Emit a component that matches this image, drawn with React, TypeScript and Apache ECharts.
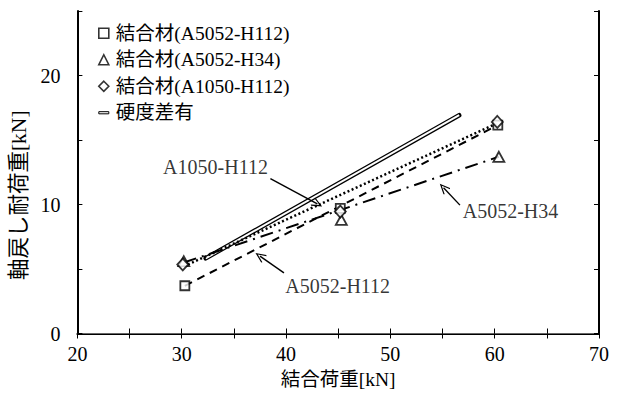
import React, { useEffect, useRef } from "react";
import * as echarts from "echarts";

// ---- data ----
const seriesNames = ["結合材(A5052-H112)", "結合材(A5052-H34)", "結合材(A1050-H112)", "硬度差有"];
const h112Points = [[30.3, 3.7], [45.2, 9.7], [60.3, 16.15]];
const h34Points = [[30.2, 5.6], [45.3, 8.8], [60.4, 13.7]];
const a1050Points = [[30.1, 5.35], [45.2, 9.45], [60.25, 16.4]];
const h112Fit = [[30.3, 3.7], [60.3, 16.15]];
const h34Fit = [[30.2, 5.5], [60.4, 13.7]];
const a1050Fit = [[30.2, 5.2], [60.25, 16.3]];
const hardnessLine = [[32.3, 5.83], [56.6, 16.92]];
const annotationLabels = ["A1050-H112", "A5052-H112", "A5052-H34"];
const annotationTextPos = [[33.24, 12.92], [44.95, 3.72], [61.52, 9.5]];
const arrowFrom = [[38.5, 12.0], [39.8, 4.7], [56.67, 9.95]];
const arrowTo = [[43.0, 10.05], [37.5, 6.0], [55.1, 11.3]];
const xAxisRange = [20, 70];
const yAxisRange = [0, 25];
const tickStep = 5;
const labelStep = 10;

const SERIF = "'Liberation Serif', 'Noto Sans CJK JP'";
const ARROW = "path://M5,0 L10,9.2 L9,10 L5,2.6 L1,10 L0,9.2 Z";

export default function App() {
  const ref = useRef<HTMLDivElement>(null);
  useEffect(() => {
    if (!ref.current) return;
    const chart = echarts.init(ref.current, null, { renderer: "svg" });
    const markerStyle = { color: "#fff", borderColor: "#000", borderWidth: 1.8 };
    const axisLabelFmt = (v: number) => (Math.round(v) % labelStep === 0 ? String(v) : "");
    const baseAxis = {
      type: "value" as const,
      interval: tickStep,
      splitLine: { show: false },
      axisTick: { inside: true, length: 5, lineStyle: { color: "#000", width: 1 } },
    };
    chart.setOption({
      animation: false,
      backgroundColor: "#fff",
      grid: { left: 74, right: 22, top: 11, bottom: 54 },
      legend: {
        orient: "vertical",
        left: 98,
        top: 23.5,
        padding: 0,
        itemWidth: 10,
        itemHeight: 10,
        itemGap: 7,
        itemStyle: { borderColor: "#000", borderWidth: 1.6 },
        textStyle: { fontSize: 19.5, fontFamily: SERIF, color: "#000", padding: [0, 0, 0, 2] },
        data: [
          { name: seriesNames[0], icon: "rect" },
          { name: seriesNames[1], icon: "triangle" },
          { name: seriesNames[2], icon: "diamond" },
          {
            name: seriesNames[3],
            icon: "path://M0,0 L14,0 L14,3 L0,3 Z",
            itemStyle: { color: "#fff", borderColor: "#000", borderWidth: 1 },
          },
        ],
      },
      xAxis: [
        {
          ...baseAxis,
          min: xAxisRange[0],
          max: xAxisRange[1],
          position: "bottom",
          name: "結合荷重[kN]",
          nameLocation: "middle",
          nameGap: 36,
          nameTextStyle: { fontSize: 19.5, fontFamily: SERIF, color: "#000" },
          axisLine: { lineStyle: { color: "#000", width: 2 } },
          axisLabel: { formatter: axisLabelFmt, fontSize: 20, fontFamily: SERIF, color: "#000", margin: 10 },
        },
        {
          ...baseAxis,
          min: xAxisRange[0],
          max: xAxisRange[1],
          position: "top",
          axisLine: { lineStyle: { color: "#666", width: 1 } },
          axisLabel: { show: false },
        },
      ],
      yAxis: [
        {
          ...baseAxis,
          min: yAxisRange[0],
          max: yAxisRange[1],
          position: "left",
          name: "軸戻し耐荷重[kN]",
          nameLocation: "middle",
          nameGap: 44,
          nameTextStyle: { fontSize: 21.5, fontFamily: SERIF, color: "#000", padding: [0, 46, 0, 0] },
          axisLine: { lineStyle: { color: "#000", width: 2 } },
          axisLabel: { formatter: axisLabelFmt, fontSize: 20, fontFamily: SERIF, color: "#000", margin: 17 },
        },
        {
          ...baseAxis,
          min: yAxisRange[0],
          max: yAxisRange[1],
          position: "right",
          axisLine: { lineStyle: { color: "#000", width: 2 } },
          axisLabel: { show: false },
        },
      ],
      series: [
        {
          name: seriesNames[3],
          type: "line",
          data: hardnessLine,
          symbol: "none",
          z: 2,
          color: "#000",
          lineStyle: { color: "#000", width: 4.5, cap: "round" },
        },
        {
          name: "hardInner",
          type: "line",
          data: hardnessLine,
          symbol: "none",
          z: 2,
          color: "#fff",
          lineStyle: { color: "#fff", width: 2 },
        },
        {
          name: "fitH112",
          type: "line",
          data: h112Fit,
          symbol: "none",
          z: 2,
          lineStyle: { color: "#000", width: 2, type: [8, 6] },
        },
        {
          name: "fitH34",
          type: "line",
          data: h34Fit,
          symbol: "none",
          z: 2,
          lineStyle: { color: "#000", width: 2, type: [13, 6, 2, 6] },
        },
        {
          name: "fitA1050",
          type: "line",
          data: a1050Fit,
          symbol: "none",
          z: 2,
          lineStyle: { color: "#000", width: 2.5, type: [2, 2.5] },
        },
        {
          name: seriesNames[0],
          type: "scatter",
          data: h112Points,
          symbol: "rect",
          symbolSize: 9,
          z: 4,
          itemStyle: markerStyle,
        },
        {
          name: seriesNames[1],
          type: "scatter",
          data: h34Points,
          symbol: "triangle",
          symbolSize: [11, 10],
          z: 4,
          itemStyle: markerStyle,
        },
        {
          name: seriesNames[2],
          type: "scatter",
          data: a1050Points,
          symbol: "diamond",
          symbolSize: [11, 12],
          z: 4,
          itemStyle: markerStyle,
        },
        {
          name: "annotations",
          type: "scatter",
          symbolSize: 0,
          z: 5,
          silent: true,
          data: annotationLabels.map((t, i) => ({ name: t, value: annotationTextPos[i] })),
          label: {
            show: true,
            position: "inside",
            formatter: "{b}",
            fontSize: 20,
            fontFamily: SERIF,
            color: "#000",
          },
          markLine: {
            silent: true,
            symbol: ["none", ARROW],
            symbolSize: [9, 11],
            label: { show: false },
            lineStyle: { color: "#000", width: 1.4, type: "solid" },
            data: arrowFrom.map((f, i) => [{ coord: f }, { coord: arrowTo[i] }]),
          },
        },
      ],
    });
    return () => chart.dispose();
  }, []);
  return (
    <div
      ref={ref}
      style={{ position: "fixed", left: 0, top: 0, width: 621, height: 394, background: "#fff" }}
    />
  );
}
